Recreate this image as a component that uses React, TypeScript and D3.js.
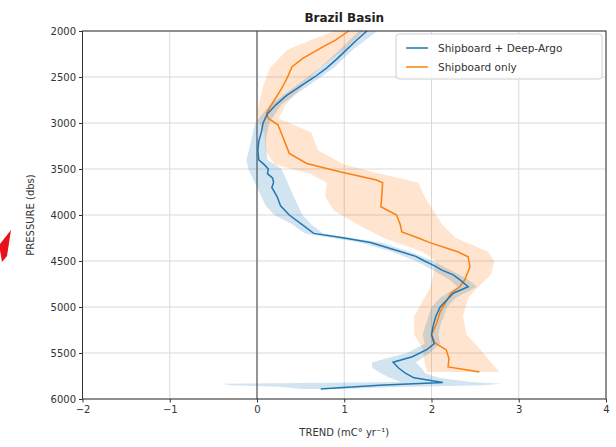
import * as d3 from "d3";
import { useEffect, useRef } from "react";

const width = 616;
const height = 447;
const margin = { top: 31, right: 10, bottom: 48, left: 82.5 };

const xTicks = [-2, -1, 0, 1, 2, 3, 4];
const yTicks = [2000, 2500, 3000, 3500, 4000, 4500, 5000, 5500, 6000];

// Shipboard + Deep-Argo trend line
const deepPressure = [
  2000, 2100, 2200, 2300, 2400, 2500, 2600, 2700, 2800, 2900, 3000, 3100,
  3200, 3300, 3400, 3450, 3500, 3550, 3600, 3650, 3700, 3800, 3900, 4000,
  4100, 4200, 4250, 4300, 4350, 4400, 4450, 4500, 4550, 4600, 4650, 4700,
  4780, 4850, 4900, 5000, 5100, 5200, 5300, 5400, 5460, 5540, 5600, 5660,
  5720, 5770, 5820, 5850, 5880, 5890,
];
const deepTrend = [
  1.26, 1.14, 1.03, 0.92, 0.8, 0.66, 0.5, 0.34, 0.22, 0.12, 0.07, 0.05, 0.02,
  0.01, 0.02, 0.08, 0.13, 0.12, 0.18, 0.19, 0.17, 0.23, 0.27, 0.37, 0.51,
  0.65, 1.0, 1.3, 1.48, 1.65, 1.82, 1.92, 2.03, 2.12, 2.25, 2.32, 2.42, 2.25,
  2.2, 2.1, 2.05, 2.02, 2.0, 2.03, 1.95, 1.78, 1.56, 1.62, 1.7, 1.8, 2.13,
  1.4, 0.9, 0.73,
];

// Shipboard + Deep-Argo uncertainty band
const deepBandPressure = [
  2000, 2200, 2400, 2600, 2800, 3000, 3200, 3400, 3500, 3600, 3800, 3900,
  4000, 4100, 4200, 4300, 4400, 4500, 4600, 4700, 4780, 4900, 5000, 5200,
  5300, 5400, 5500, 5600, 5660, 5720, 5770, 5815, 5835, 5850, 5870, 5890,
];
const deepLow = [
  1.17, 0.95, 0.72, 0.44, 0.15, -0.02, -0.07, -0.12, -0.1, -0.05, 0.05, 0.1,
  0.2, 0.4, 0.55, 1.18, 1.55, 1.82, 2.02, 2.2, 2.3, 2.1, 2.0, 1.93, 1.9, 1.92,
  1.72, 1.32, 1.32, 1.42, 1.52, 1.65, -0.4, -0.3, 0.3, 0.5,
];
const deepHigh = [
  1.38, 1.1, 0.88, 0.58, 0.28, 0.14, 0.1, 0.12, 0.28, 0.33, 0.42, 0.47, 0.52,
  0.62, 0.76, 1.42, 1.75, 2.02, 2.22, 2.42, 2.52, 2.28, 2.18, 2.1, 2.08, 2.1,
  1.98, 1.82, 1.88, 1.93, 2.08, 2.45, 2.8, 2.6, 1.6, 1.0,
];

// Shipboard only trend line
const shipPressure = [
  2000, 2100, 2170, 2300, 2390, 2480, 2560, 2660, 2780, 2890, 2950, 3020,
  3160, 3330, 3440, 3530, 3620, 3650, 3800, 3910, 4000, 4100, 4185, 4250,
  4300, 4400, 4455, 4565, 4707, 4783, 4850, 4924, 5050, 5174, 5300, 5391,
  5467, 5560, 5652, 5690, 5707,
];
const shipTrend = [
  1.05, 0.9, 0.76, 0.52, 0.4, 0.36, 0.32, 0.26, 0.18, 0.11, 0.13, 0.24, 0.3,
  0.37, 0.57, 0.95, 1.37, 1.44, 1.43, 1.42, 1.6, 1.64, 1.66, 1.85, 1.98, 2.3,
  2.42, 2.44, 2.38, 2.32, 2.22, 2.18, 2.1, 2.06, 2.0, 2.04, 2.17, 2.2, 2.19,
  2.45, 2.55,
];

// Shipboard only uncertainty band
const shipBandPressure = [
  2000, 2200, 2400, 2600, 2800, 2950, 3100, 3300, 3450, 3550, 3650, 3800,
  3950, 4100, 4250, 4400, 4500, 4650, 4800, 4900, 5100, 5300, 5450, 5600,
  5707,
];
const shipLow = [
  0.88, 0.35, 0.15, 0.07, 0.02, 0.0, 0.08, 0.1, 0.2, 0.6, 0.8, 0.78, 0.88,
  1.15, 1.45, 1.9, 2.05, 2.02, 1.98, 1.92, 1.8, 1.8, 1.9, 1.92, 1.95,
];
const shipHigh = [
  1.22, 1.0, 0.72, 0.52, 0.33, 0.25, 0.62, 0.7, 1.0, 1.4, 1.85, 1.92, 2.02,
  2.12, 2.28, 2.65, 2.72, 2.68, 2.52, 2.42, 2.36, 2.4, 2.55, 2.68, 2.78,
];

const seriesNames = ["Shipboard + Deep-Argo", "Shipboard only"];
const seriesColors = ["#1f77b4", "#ff7f0e"];

const font = "DejaVu Sans, sans-serif";

const App = () => {
  const svgRef = useRef<SVGSVGElement | null>(null);

  useEffect(() => {
    const svg = d3.select(svgRef.current);
    svg.selectAll("*").remove();

    const innerW = width - margin.left - margin.right;
    const innerH = height - margin.top - margin.bottom;

    const xScale = d3.scaleLinear().domain([-2, 4]).range([0, innerW]);
    const yScale = d3.scaleLinear().domain([2000, 6000]).range([0, innerH]);

    svg
      .append("rect")
      .attr("width", width)
      .attr("height", height)
      .attr("fill", "white");

    const g = svg
      .append("g")
      .attr("transform", `translate(${margin.left}, ${margin.top})`);

    // grid
    g.selectAll(".vgrid")
      .data(xTicks)
      .join("line")
      .attr("x1", (d) => xScale(d))
      .attr("x2", (d) => xScale(d))
      .attr("y1", 0)
      .attr("y2", innerH)
      .attr("stroke", "#d9d9d9")
      .attr("stroke-width", 1);
    g.selectAll(".hgrid")
      .data(yTicks)
      .join("line")
      .attr("y1", (d) => yScale(d))
      .attr("y2", (d) => yScale(d))
      .attr("x1", 0)
      .attr("x2", innerW)
      .attr("stroke", "#d9d9d9")
      .attr("stroke-width", 1);

    // zero line
    g.append("line")
      .attr("x1", xScale(0))
      .attr("x2", xScale(0))
      .attr("y1", 0)
      .attr("y2", innerH)
      .attr("stroke", "#666")
      .attr("stroke-width", 1.3);

    const bands = [
      { p: shipBandPressure, lo: shipLow, hi: shipHigh, color: seriesColors[1] },
      { p: deepBandPressure, lo: deepLow, hi: deepHigh, color: seriesColors[0] },
    ];
    bands.forEach((b) => {
      const area = d3
        .area<number>()
        .y((d) => yScale(d))
        .x0((_, i) => xScale(b.lo[i]))
        .x1((_, i) => xScale(b.hi[i]));
      g.append("path")
        .attr("d", area(b.p))
        .attr("fill", b.color)
        .attr("fill-opacity", 0.2);
    });

    const lines = [
      { p: shipPressure, v: shipTrend, color: seriesColors[1] },
      { p: deepPressure, v: deepTrend, color: seriesColors[0] },
    ];
    lines.forEach((l) => {
      const line = d3
        .line<number>()
        .y((d) => yScale(d))
        .x((_, i) => xScale(l.v[i]));
      g.append("path")
        .attr("d", line(l.p))
        .attr("fill", "none")
        .attr("stroke", l.color)
        .attr("stroke-width", 1.5);
    });

    // frame
    g.append("rect")
      .attr("width", innerW)
      .attr("height", innerH)
      .attr("fill", "none")
      .attr("stroke", "#333")
      .attr("stroke-width", 1);

    // axes
    const xAxis = g
      .append("g")
      .attr("transform", `translate(0, ${innerH})`)
      .call(
        d3
          .axisBottom(xScale)
          .tickValues(xTicks)
          .tickSize(3.5)
          .tickFormat((d) => d3.format("d")(d as number).replace("-", "\u2212"))
      );
    const yAxis = g.append("g").call(
      d3.axisLeft(yScale).tickValues(yTicks).tickSize(3.5).tickFormat(d3.format("d"))
    );
    [xAxis, yAxis].forEach((a) => {
      a.select(".domain").remove();
      a.selectAll("line").attr("stroke", "#333");
      a.selectAll("text")
        .attr("font-family", font)
        .attr("font-size", 10)
        .attr("fill", "#333");
    });

    // title and labels
    svg
      .append("text")
      .attr("x", margin.left + innerW / 2)
      .attr("y", 22)
      .attr("text-anchor", "middle")
      .attr("font-family", font)
      .attr("font-weight", "bold")
      .attr("font-size", 12)
      .attr("fill", "#222")
      .text("Brazil Basin");
    svg
      .append("text")
      .attr("x", margin.left + innerW / 2)
      .attr("y", 436)
      .attr("text-anchor", "middle")
      .attr("font-family", font)
      .attr("font-size", 10)
      .attr("fill", "#333")
      .text("TREND (mC\u00b0 yr\u207b\u00b9)");
    svg
      .append("text")
      .attr("transform", `translate(34, ${margin.top + innerH / 2}) rotate(-90)`)
      .attr("text-anchor", "middle")
      .attr("font-family", font)
      .attr("font-size", 10)
      .attr("fill", "#333")
      .text("PRESSURE (dbs)");

    // legend
    const legend = g
      .append("g")
      .attr("transform", `translate(${innerW - 210}, 3)`);
    legend
      .append("rect")
      .attr("width", 206)
      .attr("height", 45)
      .attr("rx", 3)
      .attr("fill", "white")
      .attr("fill-opacity", 0.85)
      .attr("stroke", "#d0d0d0");
    seriesNames.forEach((name, i) => {
      const row = legend.append("g").attr("transform", `translate(10, ${14 + i * 19})`);
      row
        .append("line")
        .attr("x1", 0)
        .attr("x2", 22)
        .attr("stroke", seriesColors[i])
        .attr("stroke-width", 1.5);
      row
        .append("text")
        .attr("x", 32)
        .attr("dy", "0.35em")
        .attr("font-family", font)
        .attr("font-size", 10.5)
        .attr("fill", "#333")
        .text(name);
    });

    // red marker at left edge
    svg
      .append("path")
      .attr("d", "M11,230 L0,244 L0,250 L2,262 L7,256 Z")
      .attr("fill", "#e8101a");
  }, []);

  return (
    <svg
      ref={svgRef}
      width={width}
      height={height}
      style={{ position: "absolute", left: 0, top: 0 }}
    />
  );
};

export default App;
